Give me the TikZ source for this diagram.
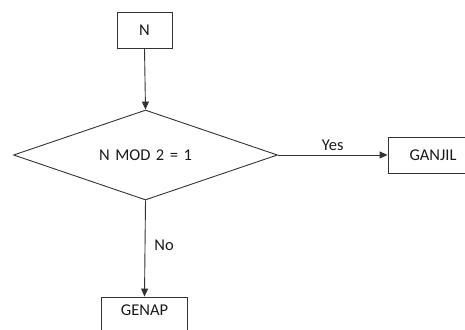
\documentclass[tikz,border=0pt]{standalone}
\usepackage{fontspec}
\setmainfont{Carlito}
\usetikzlibrary{shapes.geometric,arrows.meta}
\begin{document}
\begin{tikzpicture}[x=1pt,y=-1pt,
  every node/.style={font=\fontsize{16.5}{19}\selectfont, text=black!90},
  procbox/.style={draw=black!80, line width=0.9pt, rectangle, inner sep=0pt},
  flow/.style={draw=black!80, line width=0.9pt, -{Triangle[length=8pt,width=7pt]}},
  lbl/.style={inner sep=0pt}]
  \useasboundingbox (0,0) rectangle (465,329);
  \begin{scope}
    \clip (0,0) rectangle (465,329);
    % start value
    \node[procbox, minimum width=55pt, minimum height=36pt] (n) at (144.5,30) {N};
    % decision
    \node[draw=black!80, line width=0.9pt, diamond, aspect=2.9, inner sep=0pt,
          minimum width=264pt, minimum height=90pt] (d) at (145.5,155) {N\,\,MOD\,\,2\,\,=\,\,1};
    % outcomes
    \node[procbox, minimum width=90pt, minimum height=36pt] (odd) at (433,155) {GANJIL};
    \node[procbox, minimum width=86pt, minimum height=40pt] (even) at (144.5,317) {};
    \node[lbl] at (144.5,310) {GENAP};
    % connectors
    \draw[flow] (n.south) -- (d.north);
    \draw[flow] (d.east) -- node[lbl, above=4pt] {Yes} (odd.west);
    \draw[flow] (d.south) -- node[lbl, right=9pt, yshift=3pt] {No} (even.north);
  \end{scope}
\end{tikzpicture}
\end{document}
